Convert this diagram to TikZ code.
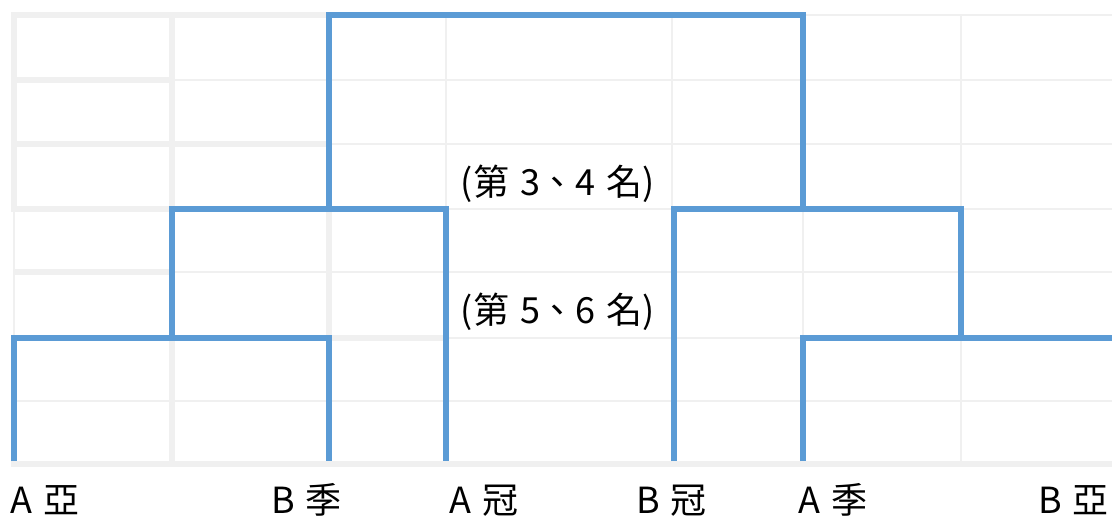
\documentclass[tikz,border=0pt]{standalone}
\usepackage{fontspec}
\setmainfont{Noto Sans CJK TC}
\definecolor{gridgray}{HTML}{F0F0F0}
\definecolor{bracketblue}{HTML}{5B9BD5}
\newcommand{\gap}{\hspace{11pt}}
\begin{document}
\begin{tikzpicture}[x=1pt,y=-1pt,
  thingrid/.style={draw=gridgray, line width=2.5pt},
  thickgrid/.style={draw=gridgray, line width=6pt},
  bracket/.style={draw=bracketblue, line width=6pt, line join=miter},
  lbl/.style={inner sep=0pt, font=\fontsize{36}{40}\selectfont, text=black}]
\useasboundingbox (0,0) rectangle (1112,520);
\fill[white] (0,0) rectangle (1112,520);
% thin grid
\foreach \yy in {15,80,144,209,272,338,401}
  \draw[thingrid] (14,\yy) -- (1112,\yy);
\foreach \xx in {14,172,329,446,672,803,961}
  \draw[thingrid] (\xx,15) -- (\xx,464);
% thick grid segments
\draw[thickgrid] (11,15) -- (329,15);
\draw[thickgrid] (14,12) -- (14,212);
\draw[thickgrid] (172,15) -- (172,209);
\draw[thickgrid] (14,80) -- (172,80);
\draw[thickgrid] (14,144) -- (329,144);
\draw[thickgrid] (11,209) -- (172,209);
\draw[thickgrid] (14,272) -- (172,272);
\draw[thickgrid] (329,209) -- (329,338);
\draw[thickgrid] (329,338) -- (446,338);
\draw[thickgrid] (172,338) -- (172,464);
\draw[thickgrid] (11,464) -- (1112,464);
% bracket corner coordinates
\coordinate (aya) at (14,461);
\coordinate (bji) at (329,461);
\coordinate (agu) at (446,461);
\coordinate (bgu) at (674,461);
\coordinate (aji) at (803,461);
\coordinate (bya) at (1112,338);
\coordinate (m1) at (172,338);
\coordinate (m2) at (329,209);
\coordinate (m3) at (961,338);
\coordinate (m4) at (803,209);
% brackets
\draw[bracket] (aya) -- (14,338) -- (329,338) -- (bji);
\draw[bracket] (m1) -- (172,209) -- (446,209) -- (agu);
\draw[bracket] (m2) -- (329,15) -- (803,15) -- (m4);
\draw[bracket] (bgu) -- (674,209) -- (961,209) -- (m3);
\draw[bracket] (aji) -- (803,338) -- (bya);
% labels
\node[lbl, anchor=base] (r34) at (558,195) {(第\gap{}3、4\gap{}名)};
\node[lbl, anchor=base] (r56) at (558,323) {(第\gap{}5、6\gap{}名)};
\node[lbl, anchor=base west] (taya) at (10,513) {A\gap{}亞};
\node[lbl, anchor=base west] (tbji) at (271,513) {B\gap{}季};
\node[lbl, anchor=base west] (tagu) at (449,513) {A\gap{}冠};
\node[lbl, anchor=base west] (tbgu) at (636,513) {B\gap{}冠};
\node[lbl, anchor=base west] (taji) at (798,513) {A\gap{}季};
\node[lbl, anchor=base east] (tbya) at (1109,513) {B\gap{}亞};
\end{tikzpicture}
\end{document}
